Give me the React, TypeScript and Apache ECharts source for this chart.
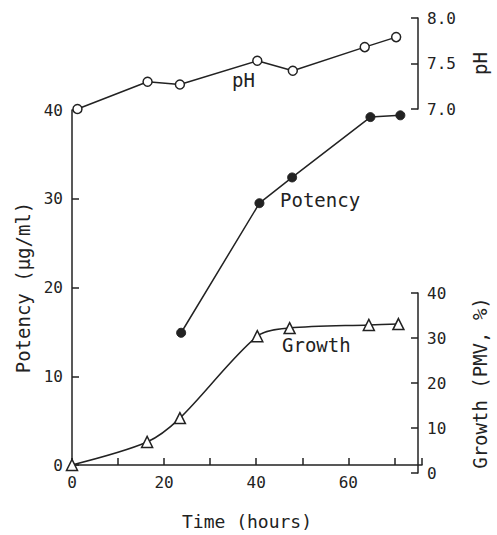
import React, { useEffect, useRef } from "react";
import * as echarts from "echarts";

// Time (hours) for each series
const phTimes = [1.2, 16.6, 23.7, 40.7, 48.5, 64.3, 71.2];
const phValues = [7.0, 7.3, 7.27, 7.53, 7.42, 7.68, 7.79];

const potencyTimes = [23.7, 40.7, 47.8, 64.8, 71.3];
const potencyValues = [14.9, 29.5, 32.4, 39.2, 39.4];

const growthTimes = [0, 16.5, 23.7, 40.7, 47.8, 65.2, 71.7];
const growthValues = [1.8, 6.9, 12.2, 30.4, 32.2, 32.9, 33.1];

const xLabels = [0, 20, 40, 60];

const INK = "#222";
const MONO = "DejaVu Sans Mono";

function pairs(xs: number[], ys: number[]) {
  return xs.map((x, i) => [x, ys[i]]);
}

const mkLine = () => ({ show: true, onZero: false, lineStyle: { color: INK, width: 1.5 } });
const mkTick = () => ({ show: true, inside: true, length: 7, lineStyle: { color: INK, width: 1.5 } });
const mkLabel = () => ({ color: INK, fontFamily: MONO, fontSize: 16, margin: 9 });

export default function App() {
  const ref = useRef<HTMLDivElement>(null);

  useEffect(() => {
    if (!ref.current) return;
    const chart = echarts.init(ref.current, null, { renderer: "svg" });

    const hiddenX = (gridIndex: number) => ({
      type: "value",
      gridIndex,
      min: 0,
      max: 76,
      show: false,
    });

    chart.setOption({
      animation: false,
      backgroundColor: "#fff",
      grid: [
        { left: 72, right: 75, top: 110, height: 363 },
        { left: 72, right: 75, top: 18, height: 91 },
        { left: 72, right: 75, top: 293, height: 180 },
      ],
      xAxis: [
        {
          type: "value",
          gridIndex: 0,
          min: 0,
          max: 76,
          interval: 10,
          axisLine: mkLine(),
          axisTick: mkTick(),
          splitLine: { show: false },
          axisLabel: {
            ...mkLabel(),
            formatter: (v: number) => (xLabels.includes(v) ? String(v) : ""),
          },
          name: "Time (hours)",
          nameLocation: "middle",
          nameGap: 47,
          nameTextStyle: { color: INK, fontFamily: MONO, fontSize: 18 },
        },
        hiddenX(1),
        hiddenX(2),
      ],
      yAxis: [
        {
          type: "value",
          gridIndex: 0,
          position: "left",
          min: 0,
          max: 40,
          interval: 10,
          axisLine: mkLine(),
          axisTick: mkTick(),
          splitLine: { show: false },
          axisLabel: mkLabel(),
          name: "Potency (μg/ml)",
          nameLocation: "middle",
          nameRotate: 90,
          nameGap: 40,
          nameTextStyle: { color: INK, fontFamily: MONO, fontSize: 19 },
        },
        {
          type: "value",
          gridIndex: 1,
          position: "right",
          min: 7,
          max: 8,
          interval: 0.5,
          axisLine: mkLine(),
          axisTick: mkTick(),
          splitLine: { show: false },
          axisLabel: { ...mkLabel(), formatter: (v: number) => v.toFixed(1) },
          name: "pH",
          nameLocation: "middle",
          nameRotate: 90,
          nameGap: 52,
          nameTextStyle: { color: INK, fontFamily: MONO, fontSize: 19 },
        },
        {
          type: "value",
          gridIndex: 2,
          position: "right",
          min: 0,
          max: 40,
          interval: 10,
          axisLine: mkLine(),
          axisTick: mkTick(),
          splitLine: { show: false },
          axisLabel: mkLabel(),
          name: "Growth (PMV, %)",
          nameLocation: "middle",
          nameRotate: 90,
          nameGap: 52,
          nameTextStyle: { color: INK, fontFamily: MONO, fontSize: 19 },
        },
      ],
      series: [
        {
          name: "pH",
          type: "line",
          xAxisIndex: 1,
          yAxisIndex: 1,
          data: pairs(phTimes, phValues),
          symbol: "circle",
          symbolSize: 9,
          clip: false,
          lineStyle: { color: INK, width: 1.5 },
          itemStyle: { color: "#fff", borderColor: INK, borderWidth: 1.5 },
          z: 3,
        },
        {
          name: "Potency",
          type: "line",
          xAxisIndex: 0,
          yAxisIndex: 0,
          data: pairs(potencyTimes, potencyValues),
          symbol: "circle",
          symbolSize: 9,
          clip: false,
          lineStyle: { color: INK, width: 1.5 },
          itemStyle: { color: INK, borderColor: INK, borderWidth: 1 },
          z: 3,
        },
        {
          name: "Growth",
          type: "line",
          xAxisIndex: 2,
          yAxisIndex: 2,
          data: pairs(growthTimes, growthValues),
          symbol: "triangle",
          symbolSize: 11,
          smooth: 0.3,
          clip: false,
          lineStyle: { color: INK, width: 1.5 },
          itemStyle: { color: "#fff", borderColor: INK, borderWidth: 1.5 },
          z: 3,
        },
      ],
      graphic: [
        {
          type: "text",
          left: 232,
          top: 70,
          style: { text: "pH", fill: INK, font: `19px "${MONO}"` },
        },
        {
          type: "text",
          left: 280,
          top: 190,
          style: { text: "Potency", fill: INK, font: `19px "${MONO}"` },
        },
        {
          type: "text",
          left: 282,
          top: 335,
          style: { text: "Growth", fill: INK, font: `19px "${MONO}"` },
        },
      ],
    });

    return () => chart.dispose();
  }, []);

  return (
    <div
      ref={ref}
      style={{ position: "absolute", left: 0, top: 0, width: 497, height: 535 }}
    />
  );
}
